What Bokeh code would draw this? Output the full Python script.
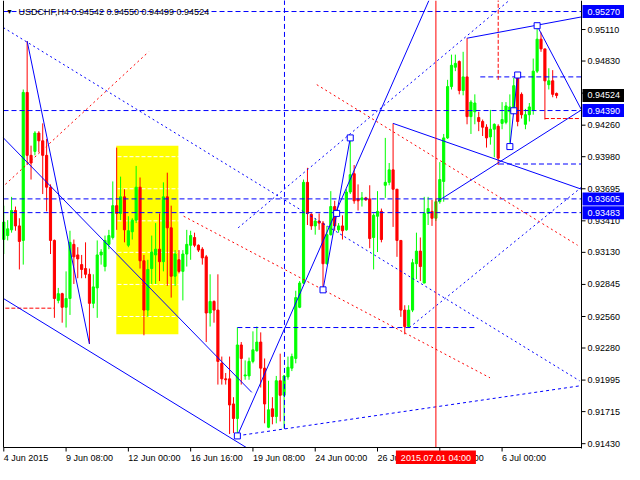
from bokeh.plotting import figure
from bokeh.models import Range1d, ColumnDataSource
from bokeh.core.properties import value
from bokeh.embed import file_html
from bokeh.resources import INLINE

# ---------------- data (USDCHF H4, bar index 0 = 4 Jun 2015 16:00) ----------------
opens = [0.93244, 0.93279, 0.93330, 0.93502, 0.93365, 0.93236, 0.94551, 0.93992, 0.94027, 0.94190,
         0.94121, 0.93992, 0.93709, 0.93236, 0.92703, 0.92763, 0.92642, 0.92720, 0.93201, 0.93107,
         0.93021, 0.92986, 0.92935, 0.92677, 0.92814, 0.93107, 0.93004, 0.93201, 0.93262, 0.93545,
         0.93476, 0.93623, 0.93193, 0.93313, 0.93416, 0.93709, 0.93055, 0.92617, 0.92986, 0.93107,
         0.93158, 0.93047, 0.93623, 0.93348, 0.92918, 0.93064, 0.92961, 0.93115, 0.93193, 0.93262,
         0.93193, 0.93158, 0.93090, 0.92591, 0.92694, 0.92617, 0.92144, 0.92006, 0.92006, 0.91783,
         0.91654, 0.92307, 0.92032, 0.92032, 0.92161, 0.92256, 0.92333, 0.92101, 0.91576, 0.91740,
         0.91671, 0.91989, 0.91860, 0.92023, 0.92101, 0.92187, 0.92642, 0.92857, 0.93752, 0.93468,
         0.93365, 0.93408, 0.93390, 0.93029, 0.93287, 0.93537, 0.93330, 0.93365, 0.93330, 0.93666,
         0.93829, 0.93605, 0.93597, 0.93614, 0.93605, 0.93262, 0.93451, 0.93494, 0.93726, 0.93752,
         0.93863, 0.93691, 0.93236, 0.92617, 0.92471, 0.92617, 0.93029, 0.93141, 0.92857, 0.93476,
         0.93494, 0.93433, 0.93580, 0.93760, 0.94147, 0.94603, 0.94775, 0.94826, 0.94568, 0.94689,
         0.94336, 0.94379, 0.94328, 0.94293, 0.94242, 0.94156, 0.94224, 0.94250, 0.94276, 0.94285,
         0.94379, 0.94405, 0.94680, 0.94534, 0.94268, 0.94353, 0.94396, 0.94740, 0.95024, 0.94938,
         0.94620, 0.94654, 0.94542]
highs = [0.93545, 0.93416, 0.93623, 0.93537, 0.93433, 0.94577, 0.95007, 0.94078, 0.94207, 0.94207,
         0.94276, 0.94138, 0.93734, 0.93244, 0.92814, 0.92771, 0.92961, 0.93322, 0.93244, 0.93176,
         0.93107, 0.93219, 0.92986, 0.92935, 0.93236, 0.93158, 0.93279, 0.93330, 0.93760, 0.94061,
         0.93803, 0.93691, 0.93451, 0.93433, 0.93898, 0.93795, 0.93107, 0.93064, 0.93279, 0.93390,
         0.93476, 0.93752, 0.93838, 0.93545, 0.93150, 0.93150, 0.93150, 0.93330, 0.93322, 0.93305,
         0.93201, 0.93176, 0.93107, 0.92935, 0.92703, 0.92935, 0.92204, 0.92058, 0.92204, 0.91843,
         0.92462, 0.92333, 0.92170, 0.92195, 0.92428, 0.92471, 0.92419, 0.92187, 0.91989, 0.91843,
         0.92032, 0.92230, 0.92041, 0.92204, 0.92230, 0.92789, 0.92875, 0.93777, 0.93881, 0.93476,
         0.93433, 0.93476, 0.93408, 0.93365, 0.93674, 0.93588, 0.93390, 0.93459, 0.93691, 0.94147,
         0.93906, 0.93734, 0.93666, 0.93623, 0.93726, 0.93476, 0.93674, 0.93519, 0.94147, 0.93924,
         0.94276, 0.93691, 0.93236, 0.92660, 0.92660, 0.93072, 0.93305, 0.93262, 0.93623, 0.93623,
         0.93597, 0.93605, 0.93932, 0.94182, 0.94663, 0.94887, 0.94887, 0.94835, 0.94912, 0.95033,
         0.94482, 0.94534, 0.94379, 0.94310, 0.94268, 0.94396, 0.94276, 0.94268, 0.94465, 0.94465,
         0.94534, 0.94680, 0.94706, 0.94551, 0.94405, 0.94457, 0.94852, 0.95144, 0.95084, 0.94938,
         0.94766, 0.94749, 0.94550]
lows = [0.93115, 0.93236, 0.93305, 0.93322, 0.92978, 0.93021, 0.93906, 0.93777, 0.93992, 0.94018,
        0.93648, 0.93494, 0.93115, 0.92548, 0.92677, 0.92505, 0.92462, 0.92574, 0.92849, 0.92900,
        0.92900, 0.92900, 0.92316, 0.92634, 0.92548, 0.93021, 0.92961, 0.93158, 0.93244, 0.93330,
        0.93416, 0.93219, 0.93176, 0.93244, 0.93390, 0.92986, 0.92393, 0.92557, 0.92849, 0.92849,
        0.92875, 0.92961, 0.92832, 0.92728, 0.92832, 0.92943, 0.92703, 0.93004, 0.93064, 0.93176,
        0.93133, 0.93021, 0.92333, 0.92471, 0.92505, 0.91955, 0.91955, 0.91955, 0.91516, 0.91525,
        0.91499, 0.91955, 0.91998, 0.91998, 0.92144, 0.92247, 0.91929, 0.91611, 0.91568, 0.91602,
        0.91611, 0.91628, 0.91568, 0.91998, 0.92075, 0.92144, 0.92634, 0.92849, 0.93373, 0.93330,
        0.93287, 0.93330, 0.92797, 0.93021, 0.93279, 0.93322, 0.93305, 0.93244, 0.93322, 0.93648,
        0.93562, 0.93502, 0.93537, 0.93588, 0.93167, 0.92978, 0.93133, 0.93219, 0.93614, 0.93726,
        0.93356, 0.93090, 0.92557, 0.92402, 0.92462, 0.92599, 0.92892, 0.92875, 0.92857, 0.93373,
        0.93365, 0.93408, 0.93562, 0.93580, 0.94138, 0.94577, 0.94740, 0.94534, 0.94525, 0.94268,
        0.94182, 0.94268, 0.94207, 0.94164, 0.94061, 0.94087, 0.93975, 0.93906, 0.94224, 0.94268,
        0.94104, 0.94379, 0.94250, 0.94319, 0.94224, 0.94293, 0.94353, 0.94723, 0.94912, 0.94310,
        0.94577, 0.94508, 0.94499]
closes = [0.93399, 0.93339, 0.93502, 0.93365, 0.93227, 0.94551, 0.93992, 0.93924, 0.94190, 0.94121,
          0.93992, 0.93709, 0.93236, 0.92720, 0.92763, 0.92642, 0.92720, 0.93219, 0.93090, 0.93072,
          0.92978, 0.92935, 0.92677, 0.92823, 0.93107, 0.93133, 0.93236, 0.93279, 0.93545, 0.93476,
          0.93623, 0.93330, 0.93322, 0.93416, 0.93709, 0.93055, 0.92617, 0.92978, 0.93133, 0.93158,
          0.93047, 0.93623, 0.93348, 0.92918, 0.93115, 0.92961, 0.93115, 0.93201, 0.93279, 0.93193,
          0.93150, 0.93081, 0.92591, 0.92694, 0.92617, 0.92161, 0.92006, 0.91998, 0.91774, 0.91654,
          0.92307, 0.92187, 0.92041, 0.92161, 0.92264, 0.92333, 0.92101, 0.91783, 0.91731, 0.91671,
          0.91989, 0.91860, 0.92032, 0.92109, 0.92204, 0.92728, 0.92857, 0.93752, 0.93476, 0.93365,
          0.93408, 0.93390, 0.93029, 0.93287, 0.93537, 0.93365, 0.93365, 0.93322, 0.93666, 0.93820,
          0.93588, 0.93588, 0.93614, 0.93597, 0.93253, 0.93459, 0.93494, 0.93244, 0.93752, 0.93863,
          0.93691, 0.93236, 0.92617, 0.92471, 0.92617, 0.93038, 0.93141, 0.93004, 0.93476, 0.93519,
          0.93433, 0.93580, 0.93777, 0.94147, 0.94603, 0.94792, 0.94809, 0.94568, 0.94689, 0.94336,
          0.94465, 0.94457, 0.94293, 0.94242, 0.94147, 0.94224, 0.94268, 0.93967, 0.94310, 0.94431,
          0.94422, 0.94611, 0.94293, 0.94353, 0.94353, 0.94422, 0.94740, 0.95024, 0.94938, 0.94654,
          0.94654, 0.94534, 0.94524]

x_tick_bars = [0, 16, 32, 48, 64, 80, 96, 112, 128]
x_tick_labels = ["4 Jun 2015", "9 Jun 08:00", "12 Jun 00:00", "16 Jun 16:00", "19 Jun 08:00",
                 "24 Jun 00:00", "26 Jun 16:00", "1 Jul 08:00", "6 Jul 00:00"]
y_ticks = [0.91430, 0.91715, 0.91995, 0.92280, 0.92560, 0.92845, 0.93130,
           0.93410, 0.93695, 0.93980, 0.94260, 0.94545, 0.94830, 0.95110]

level_prices = [0.95270, 0.94390, 0.93605, 0.93483]     # horizontal levels (blue tags)
bid_price = 0.94524
vline_bar = 111                                           # 2015.07.01 04:00
vline_label = "2015.07.01 04:00"
title_text = "USDCHF,H4  0.94542 0.94550 0.94499 0.94524"

# yellow rectangle (bar from/to, price top/bottom)
rect_bars = [28.9, 44.85]
rect_prices = [0.94078, 0.92402]

# trend lines: (bar0, price0, bar1, price1)
solid_x0 = [6, -0.1, -0.1, 60, 82, 119, 137, 111.5, 100, 130]
solid_y0 = [0.95007, 0.94147, 0.92720, 0.91500, 0.92797, 0.95033, 0.95144, 0.93585, 0.94276, 0.94070]
solid_x1 = [22, 63.7, 62.3, 109.2, 89, 148.4, 148.4, 148.4, 148.4, 132]
solid_y1 = [0.92316, 0.91886, 0.91396, 0.95368, 0.94147, 0.95222, 0.94396, 0.94396, 0.93691, 0.94706]

dash_x0 = [122.4, 60, 127.2, 72.1]
dash_y0 = [0.94689, 0.92462, 0.93915, 0.91561]
dash_x1 = [148.4, 121.2, 148.4, 72.1]
dash_y1 = [0.94689, 0.92462, 0.93915, 0.95400]

slope_dash_x = [60, 148.4]
slope_dash_y = [0.91500, 0.91946]

bdot_x0 = [-0.1, 60.2, 104.2]
bdot_y0 = [0.95127, 0.93348, 0.92462]
bdot_x1 = [147.9, 129.8, 148.4]
bdot_y1 = [0.91989, 0.95368, 0.93709]

rdot_x0 = [0.4, 46.2, 80.4]
rdot_y0 = [0.93734, 0.93451, 0.94620]
rdot_x1 = [37.2, 124.9, 147.4]
rdot_y1 = [0.94912, 0.92015, 0.93193]

rdash_x0 = [0.4, 127.0, 139]
rdash_y0 = [0.92634, 0.94663, 0.94319]
rdash_x1 = [12.9, 127.0, 148.4]
rdash_y1 = [0.92634, 0.95400, 0.94319]

anchor_bars = [60, 82, 85.5, 89, 130, 131, 132, 137]
anchor_prices = [0.91499, 0.92797, 0.93476, 0.94147, 0.94070, 0.94388, 0.94706, 0.95144]

# ---------------- layout (chart area inside the canvas) ----------------
FONT = "Liberation Sans"
BLUE = "#0000FF"
RED = "#FF0000"
LIME = "#00FF00"
W, H = 624, 464
CHART_L, CHART_R, CHART_T, CHART_B = 3, 581, 1, 447      # canvas px
bar_lo, bar_hi = -0.075, 148.4
p_lo, p_hi = 0.91396, 0.95359
ppb = (CHART_R - CHART_L) / (bar_hi - bar_lo)             # px per bar
ppp = (CHART_B - CHART_T) / (p_hi - p_lo)                 # px per price unit


def dx(px):
    return px / ppb


def dy(px):
    return px / ppp


x_range = Range1d(bar_lo - dx(CHART_L), bar_hi + dx(W - CHART_R))
y_range = Range1d(p_lo - dy(H - CHART_B), p_hi + dy(CHART_T))
top_edge = y_range.end

p = figure(width=W, height=H, x_range=x_range, y_range=y_range,
           x_axis_location=None, y_axis_location=None, min_border=0,
           output_backend="svg", toolbar_location=None,
           background_fill_color="white", border_fill_color="white")
p.outline_line_color = None
p.grid.grid_line_color = None

# yellow rectangle and white dashed price grid (visible only on the rectangle)
p.quad(left=[rect_bars[0]], right=[rect_bars[1]], top=[rect_prices[0]], bottom=[rect_prices[1]],
       fill_color="#FFFF00", line_color=None)
p.segment(x0=[bar_lo] * len(y_ticks), y0=y_ticks, x1=[bar_hi] * len(y_ticks), y1=y_ticks,
          line_color="white", line_width=1, line_dash="4 2")

# candles
n = len(opens)
src = ColumnDataSource(dict(
    x=list(range(n)), o=opens, h=highs, l=lows, c=closes,
    top=[max(a, b) for a, b in zip(opens, closes)],
    bot=[min(a, b) for a, b in zip(opens, closes)],
    col=[LIME if c >= o else RED for o, c in zip(opens, closes)]))
p.segment(x0="x", y0="l", x1="x", y1="h", line_color="col", line_width=1, source=src)
p.vbar(x="x", width=0.55, top="top", bottom="bot", fill_color="col", line_color="col",
       line_width=1, source=src)

# horizontal levels
p.segment(x0=[bar_lo] * len(level_prices), y0=level_prices, x1=[bar_hi] * len(level_prices),
          y1=level_prices, line_color=BLUE, line_width=1, line_dash="5 3")

# drawn objects
p.segment(x0=dash_x0, y0=dash_y0, x1=dash_x1, y1=dash_y1, line_color=BLUE, line_width=1, line_dash="5 3")
p.line(slope_dash_x, slope_dash_y, line_color=BLUE, line_width=1, line_dash="3 3")
p.segment(x0=bdot_x0, y0=bdot_y0, x1=bdot_x1, y1=bdot_y1, line_color=BLUE, line_width=1, line_dash="2 3")
p.segment(x0=rdot_x0, y0=rdot_y0, x1=rdot_x1, y1=rdot_y1, line_color=RED, line_width=1, line_dash="2 3")
p.segment(x0=rdash_x0, y0=rdash_y0, x1=rdash_x1, y1=rdash_y1, line_color=RED, line_width=1, line_dash="4 2")
p.segment(x0=solid_x0, y0=solid_y0, x1=solid_x1, y1=solid_y1, line_color=BLUE, line_width=1)
p.segment(x0=[vline_bar], y0=[p_lo], x1=[vline_bar], y1=[top_edge], line_color=RED, line_width=1)
p.scatter(anchor_bars, anchor_prices, marker="square", size=6, fill_color="white",
          line_color=BLUE, line_width=1)

# chart border and axis lines
p.segment(x0=[bar_lo, bar_lo, bar_hi], y0=[p_lo, p_lo, p_lo - dy(1)],
          x1=[bar_lo, bar_hi, bar_hi], y1=[top_edge, p_lo, top_edge],
          line_color="black", line_width=1)

# price axis: ticks + labels
p.segment(x0=[bar_hi] * len(y_ticks), y0=y_ticks, x1=[bar_hi + dx(4)] * len(y_ticks), y1=y_ticks,
          line_color="black", line_width=1)
p.text(x=[bar_hi + dx(6)] * len(y_ticks), y=y_ticks, text=["%.5f" % t for t in y_ticks],
       text_font=value(FONT), text_font_size=value("9px"), text_color="black",
       text_align="left", text_baseline="middle")

# time axis: ticks + labels
p.segment(x0=x_tick_bars, y0=[p_lo] * len(x_tick_bars), x1=x_tick_bars,
          y1=[p_lo - dy(4)] * len(x_tick_bars), line_color="black", line_width=1)
p.text(x=x_tick_bars, y=[p_lo - dy(10)] * len(x_tick_bars), text=x_tick_labels,
       text_font=value(FONT), text_font_size=value("9px"), text_color="black",
       text_align="left", text_baseline="middle")

# price tags (blue levels, black bid)
tag_prices = level_prices + [bid_price]
tag_colors = [BLUE] * len(level_prices) + ["black"]
p.quad(left=[bar_hi + dx(1)] * len(tag_prices), right=[x_range.end] * len(tag_prices),
       top=[t + dy(6.5) for t in tag_prices], bottom=[t - dy(6.5) for t in tag_prices],
       fill_color=tag_colors, line_color=None)
p.text(x=[bar_hi + dx(6)] * len(tag_prices), y=tag_prices, text=["%.5f" % t for t in tag_prices],
       text_font=value(FONT), text_font_size=value("9px"), text_color="white",
       text_align="left", text_baseline="middle")

# time tag of the vertical line
p.quad(left=[vline_bar - dx(40)], right=[vline_bar + dx(40)], top=[p_lo - dy(3)],
       bottom=[p_lo - dy(17)], fill_color=RED, line_color=None)
p.text(x=[vline_bar], y=[p_lo - dy(10)], text=[vline_label],
       text_font=value(FONT), text_font_size=value("9px"), text_color="white",
       text_align="center", text_baseline="middle")

# title
p.text(x=[bar_lo + dx(6)], y=[p_hi - dy(10)], text=["\u25BC"], text_font=value(FONT),
       text_font_size=value("7px"), text_color="black", text_align="center", text_baseline="middle")
p.text(x=[bar_lo + dx(15)], y=[p_hi - dy(10)], text=[title_text], text_font=value(FONT),
       text_font_size=value("9px"), text_color="black", text_align="left", text_baseline="middle")

open("out.html", "w").write(file_html(p, INLINE))
